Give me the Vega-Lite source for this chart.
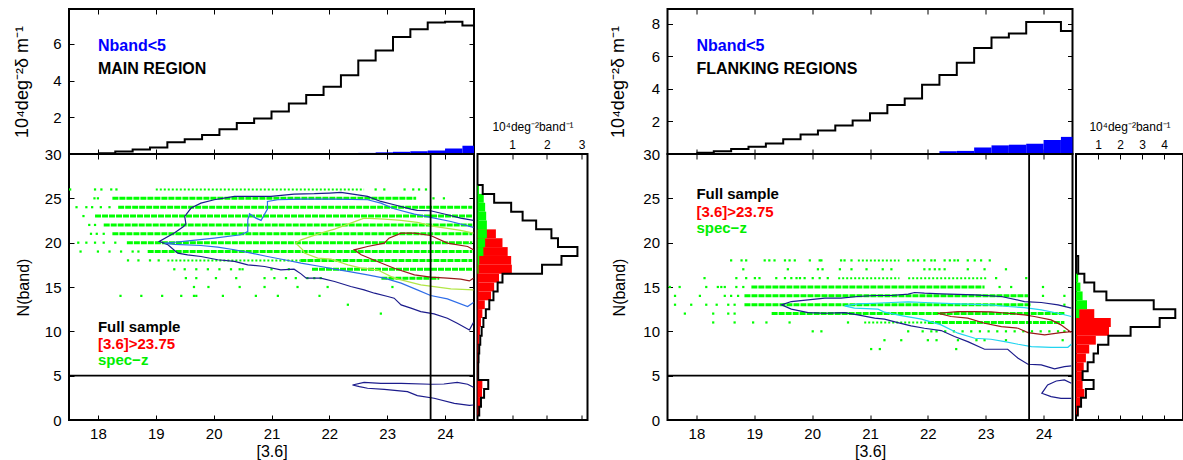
{
"$schema": "https://vega.github.io/schema/vega-lite/v6.json",
"background": "white",
"padding": {"left": 11, "top": 7, "right": 0, "bottom": 0},
"bounds": "flush",
"columns": 5,
"spacing": {"row": 0, "column": 3.5},
"resolve": {"scale": {"color": "independent"}},
"config": {
  "font": "Liberation Sans",
  "view": {"stroke": "#000000", "strokeWidth": 2},
  "axis": {"grid": false, "domain": false, "ticks": true, "tickColor": "#000000", "tickWidth": 1, "tickSize": -5, "labelColor": "#000000", "labelFontSize": 15, "titleColor": "#000000", "titleFontSize": 16, "titleFontWeight": "normal"}
},
"datasets": {
  "topStepL": [{"x":18.0,"v":0.04},{"x":18.3,"v":0.13},{"x":18.6,"v":0.24},{"x":18.9,"v":0.35},{"x":19.2,"v":0.64},{"x":19.5,"v":0.8},{"x":19.8,"v":1.04},{"x":20.1,"v":1.35},{"x":20.4,"v":1.69},{"x":20.7,"v":1.93},{"x":21.0,"v":2.31},{"x":21.3,"v":2.75},{"x":21.6,"v":3.22},{"x":21.9,"v":3.67},{"x":22.2,"v":4.29},{"x":22.5,"v":5.1},{"x":22.8,"v":5.64},{"x":23.1,"v":6.38},{"x":23.4,"v":6.8},{"x":23.7,"v":7.16},{"x":24.0,"v":7.2},{"x":24.3,"v":7.0},{"x":24.5,"v":7.0}],
  "topBlueL": [{"lo":21.9,"hi":22.2,"v":0.02},{"lo":22.2,"hi":22.5,"v":0.03},{"lo":22.5,"hi":22.8,"v":0.06},{"lo":22.8,"hi":23.1,"v":0.09},{"lo":23.1,"hi":23.4,"v":0.12},{"lo":23.4,"hi":23.7,"v":0.15},{"lo":23.7,"hi":24.0,"v":0.19},{"lo":24.0,"hi":24.3,"v":0.3},{"lo":24.3,"hi":24.5,"v":0.45}],
  "topStepR": [{"x":18.0,"v":0.08},{"x":18.3,"v":0.17},{"x":18.6,"v":0.3},{"x":18.9,"v":0.45},{"x":19.2,"v":0.65},{"x":19.5,"v":0.9},{"x":19.8,"v":1.2},{"x":20.1,"v":1.45},{"x":20.4,"v":1.75},{"x":20.7,"v":2.05},{"x":21.0,"v":2.5},{"x":21.3,"v":3.0},{"x":21.6,"v":3.4},{"x":21.9,"v":4.25},{"x":22.2,"v":4.85},{"x":22.5,"v":5.6},{"x":22.8,"v":6.5},{"x":23.1,"v":7.15},{"x":23.4,"v":7.4},{"x":23.7,"v":8.1},{"x":24.0,"v":8.1},{"x":24.3,"v":7.55},{"x":24.5,"v":7.55}],
  "topBlueR": [{"lo":21.6,"hi":21.9,"v":0.04},{"lo":21.9,"hi":22.2,"v":0.06},{"lo":22.2,"hi":22.5,"v":0.17},{"lo":22.5,"hi":22.8,"v":0.19},{"lo":22.8,"hi":23.1,"v":0.4},{"lo":23.1,"hi":23.4,"v":0.53},{"lo":23.4,"hi":23.7,"v":0.57},{"lo":23.7,"hi":24.0,"v":0.63},{"lo":24.0,"hi":24.3,"v":0.86},{"lo":24.3,"hi":24.5,"v":1.05}],
  "sideStepL": [{"n":0.5,"v":0},{"n":0.5,"v":0.05},{"n":1.5,"v":0.1},{"n":2.5,"v":0.19},{"n":3.5,"v":0.31},{"n":4.5,"v":0.02},{"n":5.5,"v":0.02},{"n":6.5,"v":0.03},{"n":7.5,"v":0.05},{"n":8.5,"v":0.08},{"n":9.5,"v":0.12},{"n":10.5,"v":0.17},{"n":11.5,"v":0.24},{"n":12.5,"v":0.34},{"n":13.5,"v":0.46},{"n":14.5,"v":0.58},{"n":15.5,"v":0.72},{"n":16.5,"v":1.86},{"n":17.5,"v":2.42},{"n":18.5,"v":2.88},{"n":19.5,"v":2.32},{"n":20.5,"v":2.13},{"n":21.5,"v":1.69},{"n":22.5,"v":1.3},{"n":23.5,"v":0.97},{"n":24.5,"v":0.48},{"n":25.5,"v":0.15},{"n":26.5,"v":0}],
  "sideBarsL": [{"s":"faint","lo":0.5,"hi":1.5,"v":0.05},{"s":"faint","lo":1.5,"hi":2.5,"v":0.08},{"s":"faint","lo":2.5,"hi":3.5,"v":0.13},{"s":"faint","lo":3.5,"hi":4.5,"v":0.14},{"s":"faint","lo":4.5,"hi":5.5,"v":0.01},{"s":"faint","lo":5.5,"hi":6.5,"v":0.01},{"s":"faint","lo":6.5,"hi":7.5,"v":0.02},{"s":"faint","lo":7.5,"hi":8.5,"v":0.03},{"s":"faint","lo":8.5,"hi":9.5,"v":0.05},{"s":"faint","lo":9.5,"hi":10.5,"v":0.07},{"s":"faint","lo":10.5,"hi":11.5,"v":0.1},{"s":"faint","lo":11.5,"hi":12.5,"v":0.14},{"s":"faint","lo":12.5,"hi":13.5,"v":0.21},{"s":"faint","lo":13.5,"hi":14.5,"v":0.39},{"s":"faint","lo":14.5,"hi":15.5,"v":0.48},{"s":"faint","lo":15.5,"hi":16.5,"v":0.62},{"s":"faint","lo":16.5,"hi":17.5,"v":0.99},{"s":"faint","lo":17.5,"hi":18.5,"v":0.97},{"s":"faint","lo":18.5,"hi":19.5,"v":0.87},{"s":"faint","lo":19.5,"hi":20.5,"v":0.72},{"s":"faint","lo":20.5,"hi":21.5,"v":0.53},
    {"s":"specz","lo":16.5,"hi":17.5,"v":0.03},{"s":"specz","lo":17.5,"hi":18.5,"v":0.05},{"s":"specz","lo":18.5,"hi":19.5,"v":0.17},{"s":"specz","lo":19.5,"hi":20.5,"v":0.22},{"s":"specz","lo":20.5,"hi":21.5,"v":0.27},{"s":"specz","lo":21.5,"hi":22.5,"v":0.27},{"s":"specz","lo":22.5,"hi":23.5,"v":0.25},{"s":"specz","lo":23.5,"hi":24.5,"v":0.22},{"s":"specz","lo":24.5,"hi":25.5,"v":0.18},{"s":"specz","lo":25.5,"hi":26.5,"v":0.04}],
  "sideStepR": [{"n":0.5,"v":0},{"n":0.5,"v":0.08},{"n":1.5,"v":0.23},{"n":2.5,"v":0.45},{"n":3.5,"v":0.8},{"n":4.5,"v":0.3},{"n":5.5,"v":0.53},{"n":6.5,"v":0.8},{"n":7.5,"v":1.0},{"n":8.5,"v":1.47},{"n":9.5,"v":2.48},{"n":10.5,"v":3.8},{"n":11.5,"v":4.51},{"n":12.5,"v":3.53},{"n":13.5,"v":1.38},{"n":14.5,"v":0.83},{"n":15.5,"v":0.38},{"n":16.5,"v":0.1},{"n":17.5,"v":0.1},{"n":18.5,"v":0}],
  "sideBarsR": [{"s":"faint","lo":0.5,"hi":1.5,"v":0.12},{"s":"faint","lo":1.5,"hi":2.5,"v":0.2},{"s":"faint","lo":2.5,"hi":3.5,"v":0.38},{"s":"faint","lo":3.5,"hi":4.5,"v":0.3},{"s":"faint","lo":4.5,"hi":5.5,"v":0.3},{"s":"faint","lo":5.5,"hi":6.5,"v":0.35},{"s":"faint","lo":6.5,"hi":7.5,"v":0.45},{"s":"faint","lo":7.5,"hi":8.5,"v":0.6},{"s":"faint","lo":8.5,"hi":9.5,"v":0.9},{"s":"faint","lo":9.5,"hi":10.5,"v":1.5},{"s":"faint","lo":10.5,"hi":11.5,"v":1.58},{"s":"faint","lo":11.5,"hi":12.5,"v":0.83},
    {"s":"specz","lo":11.5,"hi":12.5,"v":0.15},{"s":"specz","lo":12.5,"hi":13.5,"v":0.5},{"s":"specz","lo":13.5,"hi":14.5,"v":0.3},{"s":"specz","lo":14.5,"hi":15.5,"v":0.2},{"s":"specz","lo":15.5,"hi":16.5,"v":0.1}],
  "runsL": [{"x1":18.25,"x2":23.5,"n":25},{"x1":18.35,"x2":24.47,"n":24},{"x1":17.95,"x2":24.47,"n":23},{"x1":18.1,"x2":24.47,"n":22},{"x1":18.25,"x2":24.47,"n":21},{"x1":18.5,"x2":24.47,"n":20},{"x1":18.86,"x2":24.47,"n":19},{"x1":21.5,"x2":24.47,"n":18},{"x1":21.7,"x2":24.47,"n":17},{"x1":22.9,"x2":23.9,"n":16}],
  "medL": [{"x1":19.0,"x2":22.6,"n":26},{"x1":19.2,"x2":21.5,"n":18}],
  "dotsL": [{"n":26,"x":17.52},{"n":26,"x":17.95},{"n":26,"x":18.06},{"n":26,"x":18.23},{"n":26,"x":18.32},{"n":26,"x":22.8},{"n":26,"x":22.95},{"n":26,"x":23.3},{"n":26,"x":23.45},{"n":26,"x":23.55},{"n":26,"x":23.67},
    {"n":25,"x":17.94},{"n":25,"x":18.0},{"n":25,"x":23.8},{"n":25,"x":23.98},
    {"n":24,"x":17.63},{"n":24,"x":17.8},{"n":24,"x":17.9},{"n":24,"x":18.05},{"n":24,"x":18.2},
    {"n":23,"x":17.75},{"n":22,"x":17.85},{"n":22,"x":17.95},{"n":21,"x":17.88},{"n":21,"x":17.98},{"n":21,"x":18.1},
    {"n":20,"x":17.66},{"n":20,"x":17.8},{"n":20,"x":17.95},{"n":20,"x":18.1},{"n":20,"x":18.3},
    {"n":19,"x":17.7},{"n":19,"x":18.0},{"n":19,"x":18.2},{"n":19,"x":18.4},{"n":19,"x":18.6},{"n":19,"x":18.7},
    {"n":18,"x":18.52},{"n":18,"x":18.7},{"n":18,"x":18.9},{"n":18,"x":19.05},
    {"n":17,"x":19.32},{"n":17,"x":19.5},{"n":17,"x":19.7},{"n":17,"x":19.9},{"n":17,"x":20.1},{"n":17,"x":20.3},{"n":17,"x":20.45},{"n":17,"x":20.5},{"n":17,"x":21.0},{"n":17,"x":21.3},
    {"n":16,"x":19.52},{"n":16,"x":19.7},{"n":16,"x":20.04},{"n":16,"x":20.39},{"n":16,"x":20.88},{"n":16,"x":21.05},{"n":16,"x":21.25},{"n":16,"x":21.42},{"n":16,"x":21.62},{"n":16,"x":21.74},{"n":16,"x":21.85},
    {"n":15,"x":19.66},{"n":15,"x":19.91},{"n":15,"x":20.45},{"n":15,"x":20.88},{"n":15,"x":21.45},{"n":15,"x":21.97},{"n":15,"x":23.09},
    {"n":14,"x":18.39},{"n":14,"x":18.75},{"n":14,"x":19.11},{"n":14,"x":19.44},{"n":14,"x":19.66},{"n":14,"x":19.7},{"n":14,"x":20.16},{"n":14,"x":20.73},{"n":14,"x":21.11},{"n":14,"x":21.83},
    {"n":13,"x":22.32},{"n":12,"x":22.89}],
  "runsR": [{"x1":18.95,"x2":22.98,"n":15},{"x1":18.83,"x2":23.73,"n":14},{"x1":18.83,"x2":23.79,"n":13},{"x1":19.3,"x2":24.36,"n":12},{"x1":22.0,"x2":24.36,"n":11}],
  "medR": [{"x1":20.79,"x2":21.51,"n":18},{"x1":20.45,"x2":21.51,"n":16},{"x1":21.66,"x2":23.04,"n":16},{"x1":20.9,"x2":22.0,"n":11}],
  "dotsR": [{"n":18,"x":18.6},{"n":18,"x":18.78},{"n":18,"x":18.86},{"n":18,"x":19.18},{"n":18,"x":19.26},{"n":18,"x":19.35},{"n":18,"x":19.53},{"n":18,"x":19.61},{"n":18,"x":19.7},{"n":18,"x":19.96},{"n":18,"x":20.13},{"n":18,"x":20.16},{"n":18,"x":20.5},{"n":18,"x":20.56},{"n":18,"x":20.68},{"n":18,"x":21.66},{"n":18,"x":21.75},{"n":18,"x":21.83},{"n":18,"x":21.94},{"n":18,"x":22.06},{"n":18,"x":22.12},{"n":18,"x":22.29},{"n":18,"x":22.38},{"n":18,"x":22.46},{"n":18,"x":22.52},{"n":18,"x":22.69},{"n":18,"x":22.81},{"n":18,"x":22.92},{"n":18,"x":23.07},
    {"n":17,"x":18.81},{"n":17,"x":19.58},{"n":17,"x":20.1},{"n":17,"x":20.18},{"n":17,"x":20.48},{"n":17,"x":20.68},{"n":17,"x":20.94},{"n":17,"x":21.22},{"n":17,"x":21.37},{"n":17,"x":21.94},{"n":17,"x":22.03},{"n":17,"x":22.12},{"n":17,"x":22.2},{"n":17,"x":22.29},{"n":17,"x":22.69},{"n":17,"x":22.98},{"n":17,"x":23.35},
    {"n":16,"x":18.14},{"n":16,"x":18.69},{"n":16,"x":18.86},{"n":16,"x":19.01},{"n":16,"x":19.09},{"n":16,"x":19.38},{"n":16,"x":19.53},{"n":16,"x":19.64},{"n":16,"x":19.73},{"n":16,"x":19.79},{"n":16,"x":19.87},{"n":16,"x":20.01},{"n":16,"x":20.13},{"n":16,"x":20.27},{"n":16,"x":23.18},{"n":16,"x":23.7},
    {"n":15,"x":17.54},{"n":15,"x":17.71},{"n":15,"x":18.17},{"n":15,"x":18.37},{"n":15,"x":18.43},{"n":15,"x":18.49},{"n":15,"x":18.69},{"n":15,"x":18.81},{"n":15,"x":23.24},{"n":15,"x":23.44},{"n":15,"x":23.99},
    {"n":14,"x":17.63},{"n":14,"x":18.06},{"n":14,"x":18.49},{"n":14,"x":18.6},{"n":14,"x":18.72},{"n":14,"x":23.99},{"n":14,"x":24.36},
    {"n":13,"x":17.63},{"n":13,"x":17.91},{"n":13,"x":18.17},{"n":13,"x":18.35},{"n":13,"x":18.55},{"n":13,"x":18.66},{"n":13,"x":24.36},
    {"n":12,"x":17.8},{"n":12,"x":18.29},{"n":12,"x":18.55},{"n":12,"x":18.66},
    {"n":11,"x":18.29},{"n":11,"x":18.66},{"n":11,"x":18.98},{"n":11,"x":19.21},{"n":11,"x":19.61},{"n":11,"x":20.62},
    {"n":10,"x":20.01},{"n":10,"x":20.16},{"n":10,"x":21.66},{"n":10,"x":21.91},{"n":10,"x":22.06},{"n":10,"x":22.15},{"n":10,"x":22.3},{"n":10,"x":22.45},{"n":10,"x":22.6},{"n":10,"x":22.75},{"n":10,"x":22.9},{"n":10,"x":23.05},{"n":10,"x":23.2},{"n":10,"x":23.35},{"n":10,"x":23.5},{"n":10,"x":23.65},{"n":10,"x":23.8},{"n":10,"x":23.95},{"n":10,"x":24.1},{"n":10,"x":24.25},{"n":10,"x":24.36},
    {"n":9,"x":21.25},{"n":9,"x":21.54},{"n":9,"x":22.0},{"n":9,"x":22.15},{"n":9,"x":22.52},{"n":9,"x":22.84},{"n":9,"x":22.98},{"n":9,"x":23.35},{"n":9,"x":24.33},
    {"n":8,"x":21.02},{"n":8,"x":21.17},{"n":8,"x":22.49}],
  "contL": [
    {"id":"a","c":"L1","x":24.49,"y":22.51},{"id":"a","c":"L1","x":24.27,"y":22.77},{"id":"a","c":"L1","x":24.04,"y":23.15},{"id":"a","c":"L1","x":23.75,"y":23.6},{"id":"a","c":"L1","x":23.52,"y":23.64},{"id":"a","c":"L1","x":23.41,"y":23.79},{"id":"a","c":"L1","x":23.12,"y":24.28},{"id":"a","c":"L1","x":22.89,"y":24.65},{"id":"a","c":"L1","x":22.66,"y":25.22},{"id":"a","c":"L1","x":22.49,"y":25.4},{"id":"a","c":"L1","x":22.2,"y":25.67},{"id":"a","c":"L1","x":22.0,"y":25.59},{"id":"a","c":"L1","x":21.74,"y":25.52},{"id":"a","c":"L1","x":21.39,"y":25.48},{"id":"a","c":"L1","x":20.99,"y":25.22},{"id":"a","c":"L1","x":20.7,"y":25.22},{"id":"a","c":"L1","x":20.36,"y":25.22},{"id":"a","c":"L1","x":20.01,"y":24.84},{"id":"a","c":"L1","x":19.78,"y":24.46},{"id":"a","c":"L1","x":19.61,"y":23.9},{"id":"a","c":"L1","x":19.5,"y":22.96},{"id":"a","c":"L1","x":19.52,"y":22.13},{"id":"a","c":"L1","x":19.48,"y":21.83},{"id":"a","c":"L1","x":19.32,"y":21.08},{"id":"a","c":"L1","x":19.06,"y":20.14},{"id":"a","c":"L1","x":19.21,"y":19.76},{"id":"a","c":"L1","x":19.38,"y":18.82},{"id":"a","c":"L1","x":19.55,"y":18.63},{"id":"a","c":"L1","x":19.78,"y":18.44},{"id":"a","c":"L1","x":20.07,"y":18.07},{"id":"a","c":"L1","x":20.36,"y":17.88},{"id":"a","c":"L1","x":20.59,"y":17.5},{"id":"a","c":"L1","x":20.88,"y":17.31},{"id":"a","c":"L1","x":21.16,"y":16.94},{"id":"a","c":"L1","x":21.39,"y":17.01},{"id":"a","c":"L1","x":21.51,"y":16.48},{"id":"a","c":"L1","x":21.6,"y":16.0},{"id":"a","c":"L1","x":21.85,"y":16.0},{"id":"a","c":"L1","x":22.09,"y":15.62},{"id":"a","c":"L1","x":22.37,"y":15.06},{"id":"a","c":"L1","x":22.6,"y":14.68},{"id":"a","c":"L1","x":22.78,"y":14.3},{"id":"a","c":"L1","x":23.01,"y":13.93},{"id":"a","c":"L1","x":23.12,"y":13.74},{"id":"a","c":"L1","x":23.24,"y":12.98},{"id":"a","c":"L1","x":23.41,"y":12.61},{"id":"a","c":"L1","x":23.58,"y":12.23},{"id":"a","c":"L1","x":23.81,"y":11.97},{"id":"a","c":"L1","x":24.04,"y":11.48},{"id":"a","c":"L1","x":24.21,"y":10.91},{"id":"a","c":"L1","x":24.42,"y":10.16},{"id":"a","c":"L1","x":24.49,"y":10.99},
    {"id":"b","c":"L2","x":24.49,"y":21.72},{"id":"b","c":"L2","x":24.1,"y":22.39},{"id":"b","c":"L2","x":23.75,"y":22.85},{"id":"b","c":"L2","x":23.47,"y":23.22},{"id":"b","c":"L2","x":23.12,"y":23.82},{"id":"b","c":"L2","x":22.89,"y":24.46},{"id":"b","c":"L2","x":22.66,"y":24.84},{"id":"b","c":"L2","x":22.09,"y":24.92},{"id":"b","c":"L2","x":21.51,"y":24.92},{"id":"b","c":"L2","x":21.11,"y":24.84},{"id":"b","c":"L2","x":20.93,"y":24.65},{"id":"b","c":"L2","x":20.93,"y":23.79},{"id":"b","c":"L2","x":20.82,"y":22.51},{"id":"b","c":"L2","x":20.73,"y":22.77},{"id":"b","c":"L2","x":20.62,"y":23.26},{"id":"b","c":"L2","x":20.59,"y":22.58},{"id":"b","c":"L2","x":20.59,"y":21.26},{"id":"b","c":"L2","x":20.47,"y":20.89},{"id":"b","c":"L2","x":20.01,"y":20.51},{"id":"b","c":"L2","x":19.64,"y":20.25},{"id":"b","c":"L2","x":19.29,"y":20.02},{"id":"b","c":"L2","x":19.15,"y":19.95},{"id":"b","c":"L2","x":19.32,"y":19.8},{"id":"b","c":"L2","x":19.78,"y":19.68},{"id":"b","c":"L2","x":20.07,"y":19.5},{"id":"b","c":"L2","x":20.36,"y":19.2},{"id":"b","c":"L2","x":20.65,"y":18.82},{"id":"b","c":"L2","x":20.93,"y":18.44},{"id":"b","c":"L2","x":21.22,"y":18.07},{"id":"b","c":"L2","x":21.51,"y":17.69},{"id":"b","c":"L2","x":21.85,"y":17.31},{"id":"b","c":"L2","x":22.09,"y":17.01},{"id":"b","c":"L2","x":22.37,"y":16.71},{"id":"b","c":"L2","x":22.66,"y":16.37},{"id":"b","c":"L2","x":22.95,"y":16.0},{"id":"b","c":"L2","x":23.24,"y":15.43},{"id":"b","c":"L2","x":23.52,"y":14.68},{"id":"b","c":"L2","x":23.75,"y":14.04},{"id":"b","c":"L2","x":24.04,"y":13.66},{"id":"b","c":"L2","x":24.39,"y":12.8},{"id":"b","c":"L2","x":24.49,"y":13.25},
    {"id":"c","c":"L3","x":24.49,"y":21.08},{"id":"c","c":"L3","x":24.27,"y":21.38},{"id":"c","c":"L3","x":23.81,"y":21.83},{"id":"c","c":"L3","x":23.52,"y":22.28},{"id":"c","c":"L3","x":23.24,"y":22.51},{"id":"c","c":"L3","x":22.95,"y":22.66},{"id":"c","c":"L3","x":22.6,"y":22.77},{"id":"c","c":"L3","x":22.37,"y":22.21},{"id":"c","c":"L3","x":22.09,"y":21.53},{"id":"c","c":"L3","x":21.85,"y":21.08},{"id":"c","c":"L3","x":21.51,"y":20.32},{"id":"c","c":"L3","x":21.42,"y":19.95},{"id":"c","c":"L3","x":21.54,"y":19.19},{"id":"c","c":"L3","x":21.57,"y":18.82},{"id":"c","c":"L3","x":21.8,"y":18.25},{"id":"c","c":"L3","x":22.03,"y":18.14},{"id":"c","c":"L3","x":22.32,"y":17.5},{"id":"c","c":"L3","x":22.55,"y":17.12},{"id":"c","c":"L3","x":22.83,"y":16.94},{"id":"c","c":"L3","x":23.12,"y":16.0},{"id":"c","c":"L3","x":23.58,"y":15.24},{"id":"c","c":"L3","x":23.81,"y":15.05},{"id":"c","c":"L3","x":24.1,"y":14.79},{"id":"c","c":"L3","x":24.49,"y":14.68},
    {"id":"d","c":"L4","x":24.49,"y":19.19},{"id":"d","c":"L4","x":24.39,"y":19.57},{"id":"d","c":"L4","x":24.04,"y":19.95},{"id":"d","c":"L4","x":23.75,"y":20.81},{"id":"d","c":"L4","x":23.47,"y":21.08},{"id":"d","c":"L4","x":23.24,"y":21.08},{"id":"d","c":"L4","x":23.03,"y":20.51},{"id":"d","c":"L4","x":22.95,"y":19.95},{"id":"d","c":"L4","x":22.66,"y":19.57},{"id":"d","c":"L4","x":22.43,"y":19.19},{"id":"d","c":"L4","x":22.55,"y":18.63},{"id":"d","c":"L4","x":22.83,"y":17.88},{"id":"d","c":"L4","x":23.12,"y":17.12},{"id":"d","c":"L4","x":23.47,"y":16.37},{"id":"d","c":"L4","x":23.75,"y":16.11},{"id":"d","c":"L4","x":24.04,"y":16.0},{"id":"d","c":"L4","x":24.27,"y":15.88},{"id":"d","c":"L4","x":24.42,"y":15.69},{"id":"d","c":"L4","x":24.49,"y":16.0},
    {"id":"e","c":"L1","x":24.49,"y":3.69},{"id":"e","c":"L1","x":24.39,"y":4.03},{"id":"e","c":"L1","x":24.21,"y":4.25},{"id":"e","c":"L1","x":23.98,"y":4.06},{"id":"e","c":"L1","x":23.75,"y":4.03},{"id":"e","c":"L1","x":23.24,"y":4.14},{"id":"e","c":"L1","x":22.89,"y":4.14},{"id":"e","c":"L1","x":22.6,"y":4.25},{"id":"e","c":"L1","x":22.4,"y":3.95},{"id":"e","c":"L1","x":22.52,"y":3.76},{"id":"e","c":"L1","x":22.66,"y":3.58},{"id":"e","c":"L1","x":22.95,"y":3.46},{"id":"e","c":"L1","x":23.35,"y":3.2},{"id":"e","c":"L1","x":23.52,"y":2.75},{"id":"e","c":"L1","x":23.81,"y":2.45},{"id":"e","c":"L1","x":24.16,"y":1.88},{"id":"e","c":"L1","x":24.42,"y":1.66},{"id":"e","c":"L1","x":24.49,"y":1.69}],
  "contR": [
    {"id":"a","c":"L1","x":24.48,"y":12.61},{"id":"a","c":"L1","x":24.25,"y":12.98},{"id":"a","c":"L1","x":23.96,"y":13.25},{"id":"a","c":"L1","x":23.67,"y":13.36},{"id":"a","c":"L1","x":23.27,"y":13.93},{"id":"a","c":"L1","x":22.81,"y":14.11},{"id":"a","c":"L1","x":22.23,"y":14.23},{"id":"a","c":"L1","x":21.94,"y":14.3},{"id":"a","c":"L1","x":21.77,"y":14.38},{"id":"a","c":"L1","x":21.66,"y":14.19},{"id":"a","c":"L1","x":21.37,"y":14.04},{"id":"a","c":"L1","x":21.08,"y":14.04},{"id":"a","c":"L1","x":20.79,"y":13.93},{"id":"a","c":"L1","x":20.5,"y":13.74},{"id":"a","c":"L1","x":20.22,"y":13.74},{"id":"a","c":"L1","x":19.93,"y":13.55},{"id":"a","c":"L1","x":19.64,"y":13.36},{"id":"a","c":"L1","x":19.47,"y":12.98},{"id":"a","c":"L1","x":19.64,"y":12.5},{"id":"a","c":"L1","x":19.93,"y":12.12},{"id":"a","c":"L1","x":20.22,"y":12.04},{"id":"a","c":"L1","x":20.56,"y":12.12},{"id":"a","c":"L1","x":20.79,"y":11.86},{"id":"a","c":"L1","x":21.08,"y":11.48},{"id":"a","c":"L1","x":21.25,"y":11.37},{"id":"a","c":"L1","x":21.48,"y":10.99},{"id":"a","c":"L1","x":21.71,"y":10.61},{"id":"a","c":"L1","x":21.94,"y":10.35},{"id":"a","c":"L1","x":22.23,"y":10.09},{"id":"a","c":"L1","x":22.46,"y":9.41},{"id":"a","c":"L1","x":22.69,"y":8.84},{"id":"a","c":"L1","x":22.98,"y":7.98},{"id":"a","c":"L1","x":23.38,"y":7.98},{"id":"a","c":"L1","x":23.56,"y":6.96},{"id":"a","c":"L1","x":23.73,"y":6.29},{"id":"a","c":"L1","x":23.96,"y":6.21},{"id":"a","c":"L1","x":24.19,"y":5.76},{"id":"a","c":"L1","x":24.36,"y":6.02},{"id":"a","c":"L1","x":24.48,"y":6.1},
    {"id":"b","c":"L2","x":24.48,"y":11.67},{"id":"b","c":"L2","x":24.25,"y":12.04},{"id":"b","c":"L2","x":23.96,"y":12.42},{"id":"b","c":"L2","x":23.67,"y":12.68},{"id":"b","c":"L2","x":23.38,"y":12.8},{"id":"b","c":"L2","x":23.09,"y":12.98},{"id":"b","c":"L2","x":22.52,"y":13.1},{"id":"b","c":"L2","x":21.94,"y":13.25},{"id":"b","c":"L2","x":21.66,"y":13.32},{"id":"b","c":"L2","x":21.37,"y":13.25},{"id":"b","c":"L2","x":21.08,"y":13.17},{"id":"b","c":"L2","x":20.79,"y":13.1},{"id":"b","c":"L2","x":20.56,"y":12.87},{"id":"b","c":"L2","x":20.73,"y":12.61},{"id":"b","c":"L2","x":21.14,"y":12.5},{"id":"b","c":"L2","x":21.25,"y":12.16},{"id":"b","c":"L2","x":21.54,"y":11.78},{"id":"b","c":"L2","x":21.89,"y":11.37},{"id":"b","c":"L2","x":22.23,"y":10.73},{"id":"b","c":"L2","x":22.52,"y":9.79},{"id":"b","c":"L2","x":22.81,"y":9.22},{"id":"b","c":"L2","x":23.09,"y":9.11},{"id":"b","c":"L2","x":23.33,"y":8.84},{"id":"b","c":"L2","x":23.56,"y":8.54},{"id":"b","c":"L2","x":23.79,"y":8.28},{"id":"b","c":"L2","x":24.13,"y":8.2},{"id":"b","c":"L2","x":24.42,"y":8.2},{"id":"b","c":"L2","x":24.48,"y":8.54},
    {"id":"c","c":"L3","x":24.48,"y":9.86},{"id":"c","c":"L3","x":24.3,"y":10.73},{"id":"c","c":"L3","x":24.13,"y":11.29},{"id":"c","c":"L3","x":23.84,"y":11.67},{"id":"c","c":"L3","x":23.67,"y":11.86},{"id":"c","c":"L3","x":23.38,"y":12.04},{"id":"c","c":"L3","x":23.09,"y":12.19},{"id":"c","c":"L3","x":22.81,"y":12.23},{"id":"c","c":"L3","x":22.52,"y":12.23},{"id":"c","c":"L3","x":22.17,"y":12.04},{"id":"c","c":"L3","x":22.4,"y":11.67},{"id":"c","c":"L3","x":22.69,"y":11.48},{"id":"c","c":"L3","x":22.98,"y":10.91},{"id":"c","c":"L3","x":23.27,"y":10.54},{"id":"c","c":"L3","x":23.56,"y":10.35},{"id":"c","c":"L3","x":23.73,"y":9.86},{"id":"c","c":"L3","x":24.02,"y":9.6},{"id":"c","c":"L3","x":24.3,"y":9.86},{"id":"c","c":"L3","x":24.48,"y":9.97},
    {"id":"e","c":"L1","x":24.48,"y":4.14},{"id":"e","c":"L1","x":24.36,"y":4.52},{"id":"e","c":"L1","x":24.22,"y":4.4},{"id":"e","c":"L1","x":24.07,"y":3.95},{"id":"e","c":"L1","x":23.97,"y":3.01},{"id":"e","c":"L1","x":24.13,"y":2.63},{"id":"e","c":"L1","x":24.3,"y":2.45},{"id":"e","c":"L1","x":24.48,"y":2.45}]
},
"concat": [
  {"width": 405, "height": 145,
   "layer": [
    {"data": {"name": "topBlueL"}, "mark": {"type": "rect", "color": "#0000ff"},
     "encoding": {
      "x": {"field": "lo", "type": "quantitative", "scale": {"domain": [17.5, 24.5], "nice": false, "zero": false}, "axis": {"orient": "bottom", "values": [18,19,20,21,22,23,24], "labels": false, "title": null}},
      "x2": {"field": "hi"},
      "y": {"field": "v", "type": "quantitative", "scale": {"domain": [0, 7.9], "nice": false}, "axis": {"orient": "left", "values": [2,4,6], "labelPadding": 13, "title": "10⁴deg⁻²δ m⁻¹", "titleX": -38, "titleFontSize": 18}},
      "y2": {"datum": 0}}},
    {"data": {"name": "topStepL"}, "mark": {"type": "line", "interpolate": "step-after", "color": "#000000", "strokeWidth": 2, "clip": true},
     "encoding": {
      "x": {"field": "x", "type": "quantitative", "axis": {"orient": "top", "values": [18,19,20,21,22,23,24], "labels": false, "title": null}},
      "y": {"field": "v", "type": "quantitative", "axis": {"orient": "right", "values": [2,4,6], "labels": false, "title": null}},
      "order": {"value": null}}},
    {"data": {"values": [{}]}, "mark": {"type": "text", "align": "left", "baseline": "middle", "fontSize": 16, "fontWeight": "bold", "color": "#0000ff"},
     "encoding": {"x": {"datum": 18.0, "type": "quantitative", "axis": null}, "y": {"datum": 5.88, "type": "quantitative", "axis": null}, "text": {"value": "Nband<5"}}},
    {"data": {"values": [{}]}, "mark": {"type": "text", "align": "left", "baseline": "middle", "fontSize": 16, "fontWeight": "bold", "color": "#000000"},
     "encoding": {"x": {"datum": 18.0, "type": "quantitative", "axis": null}, "y": {"datum": 4.63, "type": "quantitative", "axis": null}, "text": {"value": "MAIN REGION"}}}
   ],
   "resolve": {"axis": {"x": "independent", "y": "independent"}}},
  {"width": 110, "height": 145, "view": {"stroke": null}, "data": {"values": [{}]}, "mark": {"type": "text", "text": ""}},
  {"width": 72.5, "height": 145, "view": {"stroke": null}, "data": {"values": [{}]}, "mark": {"type": "text", "text": ""}},
  {"width": 405, "height": 145,
   "layer": [
    {"data": {"name": "topBlueR"}, "mark": {"type": "rect", "color": "#0000ff"},
     "encoding": {
      "x": {"field": "lo", "type": "quantitative", "scale": {"domain": [17.5, 24.5], "nice": false, "zero": false}, "axis": {"orient": "bottom", "values": [18,19,20,21,22,23,24], "labels": false, "title": null}},
      "x2": {"field": "hi"},
      "y": {"field": "v", "type": "quantitative", "scale": {"domain": [0, 8.9], "nice": false}, "axis": {"orient": "left", "values": [2,4,6,8], "labelPadding": 13, "title": "10⁴deg⁻²δ m⁻¹", "titleX": -40, "titleFontSize": 18}},
      "y2": {"datum": 0}}},
    {"data": {"name": "topStepR"}, "mark": {"type": "line", "interpolate": "step-after", "color": "#000000", "strokeWidth": 2, "clip": true},
     "encoding": {
      "x": {"field": "x", "type": "quantitative", "axis": {"orient": "top", "values": [18,19,20,21,22,23,24], "labels": false, "title": null}},
      "y": {"field": "v", "type": "quantitative", "axis": {"orient": "right", "values": [2,4,6,8], "labels": false, "title": null}},
      "order": {"value": null}}},
    {"data": {"values": [{}]}, "mark": {"type": "text", "align": "left", "baseline": "middle", "fontSize": 16, "fontWeight": "bold", "color": "#0000ff"},
     "encoding": {"x": {"datum": 18.0, "type": "quantitative", "axis": null}, "y": {"datum": 6.63, "type": "quantitative", "axis": null}, "text": {"value": "Nband<5"}}},
    {"data": {"values": [{}]}, "mark": {"type": "text", "align": "left", "baseline": "middle", "fontSize": 16, "fontWeight": "bold", "color": "#000000"},
     "encoding": {"x": {"datum": 18.0, "type": "quantitative", "axis": null}, "y": {"datum": 5.22, "type": "quantitative", "axis": null}, "text": {"value": "FLANKING REGIONS"}}}
   ],
   "resolve": {"axis": {"x": "independent", "y": "independent"}}},
  {"width": 107, "height": 145, "view": {"stroke": null}, "data": {"values": [{}]}, "mark": {"type": "text", "text": ""}},
  {"width": 405, "height": 266,
   "layer": [
    {"data": {"name": "runsL"}, "mark": {"type": "rule", "color": "#00ff00", "strokeWidth": 3, "strokeDash": [6, 1]},
     "encoding": {
      "x": {"field": "x1", "type": "quantitative", "scale": {"domain": [17.5, 24.5], "nice": false, "zero": false}, "axis": {"orient": "bottom", "values": [18,19,20,21,22,23,24], "labelPadding": 11, "title": "[3.6]", "titlePadding": 2}},
      "x2": {"field": "x2"},
      "y": {"field": "n", "type": "quantitative", "scale": {"domain": [0, 30], "nice": false}, "axis": {"orient": "left", "values": [0,5,10,15,20,25,30], "labelPadding": 13, "title": "N(band)", "titleX": -38}}}},
    {"data": {"name": "medL"}, "mark": {"type": "rule", "color": "#00ff00", "strokeWidth": 2, "strokeDash": [2, 2]},
     "encoding": {"x": {"field": "x1", "type": "quantitative", "axis": null}, "x2": {"field": "x2"}, "y": {"field": "n", "type": "quantitative", "axis": null}}},
    {"data": {"name": "dotsL"}, "mark": {"type": "square", "size": 5, "color": "#00ff00", "opacity": 1},
     "encoding": {
      "x": {"field": "x", "type": "quantitative", "axis": {"orient": "top", "values": [18,19,20,21,22,23,24], "labels": false, "title": null}},
      "y": {"field": "n", "type": "quantitative", "axis": {"orient": "right", "values": [0,5,10,15,20,25,30], "labels": false, "title": null}}}},
    {"data": {"name": "contL"}, "mark": {"type": "line", "strokeWidth": 1.2, "clip": true},
     "encoding": {
      "x": {"field": "x", "type": "quantitative", "axis": null},
      "y": {"field": "y", "type": "quantitative", "axis": null},
      "color": {"field": "c", "type": "nominal", "scale": {"domain": ["L1","L2","L3","L4"], "range": ["#1c1c8c","#2f6de8","#b2e645","#9a1a1a"]}, "legend": null},
      "detail": {"field": "id"},
      "order": {"value": null}}},
    {"data": {"values": [{}]}, "mark": {"type": "rule", "color": "#000000", "strokeWidth": 1.8},
     "encoding": {"x": {"datum": 23.75, "type": "quantitative", "axis": null}}},
    {"data": {"values": [{}]}, "mark": {"type": "rule", "color": "#000000", "strokeWidth": 1.8},
     "encoding": {"y": {"datum": 5, "type": "quantitative", "axis": null}}},
    {"data": {"values": [{}]}, "mark": {"type": "text", "align": "left", "baseline": "middle", "fontSize": 15, "fontWeight": "bold", "color": "#000000"},
     "encoding": {"x": {"datum": 18.0, "type": "quantitative", "axis": null}, "y": {"datum": 10.5, "type": "quantitative", "axis": null}, "text": {"value": "Full sample"}}},
    {"data": {"values": [{}]}, "mark": {"type": "text", "align": "left", "baseline": "middle", "fontSize": 15, "fontWeight": "bold", "color": "#ff0000"},
     "encoding": {"x": {"datum": 18.0, "type": "quantitative", "axis": null}, "y": {"datum": 8.6, "type": "quantitative", "axis": null}, "text": {"value": "[3.6]>23.75"}}},
    {"data": {"values": [{}]}, "mark": {"type": "text", "align": "left", "baseline": "middle", "fontSize": 15, "fontWeight": "bold", "color": "#00ee00"},
     "encoding": {"x": {"datum": 18.0, "type": "quantitative", "axis": null}, "y": {"datum": 6.8, "type": "quantitative", "axis": null}, "text": {"value": "spec−z"}}}
   ],
   "resolve": {"axis": {"x": "independent", "y": "independent"}}},
  {"width": 110, "height": 266,
   "layer": [
    {"data": {"name": "sideBarsL"}, "mark": {"type": "rect"},
     "encoding": {
      "x": {"field": "v", "type": "quantitative", "scale": {"domain": [0, 3.17], "nice": false}, "axis": {"orient": "top", "values": [1,2,3], "labelFontSize": 12, "labelPadding": 8, "title": "10⁴deg⁻²band⁻¹", "titleFontSize": 12, "titlePadding": 5}},
      "x2": {"datum": 0},
      "y": {"field": "lo", "type": "quantitative", "scale": {"domain": [0, 30], "nice": false}, "axis": null},
      "y2": {"field": "hi"},
      "color": {"field": "s", "type": "nominal", "scale": {"domain": ["faint","specz"], "range": ["#ff0000","#00ff00"]}, "legend": null}}},
    {"data": {"name": "sideStepL"}, "mark": {"type": "line", "interpolate": "step-before", "color": "#000000", "strokeWidth": 2, "clip": true},
     "encoding": {
      "x": {"field": "v", "type": "quantitative", "axis": {"orient": "bottom", "values": [1,2,3], "labels": false, "title": null}},
      "y": {"field": "n", "type": "quantitative", "axis": null},
      "order": {"value": null}}}
   ],
   "resolve": {"axis": {"x": "independent", "y": "independent"}}},
  {"width": 72.5, "height": 266, "view": {"stroke": null}, "data": {"values": [{}]}, "mark": {"type": "text", "text": ""}},
  {"width": 405, "height": 266,
   "layer": [
    {"data": {"name": "runsR"}, "mark": {"type": "rule", "color": "#00ff00", "strokeWidth": 3, "strokeDash": [6, 1]},
     "encoding": {
      "x": {"field": "x1", "type": "quantitative", "scale": {"domain": [17.5, 24.5], "nice": false, "zero": false}, "axis": {"orient": "bottom", "values": [18,19,20,21,22,23,24], "labelPadding": 11, "title": "[3.6]", "titlePadding": 2}},
      "x2": {"field": "x2"},
      "y": {"field": "n", "type": "quantitative", "scale": {"domain": [0, 30], "nice": false}, "axis": {"orient": "left", "values": [0,5,10,15,20,25,30], "labelPadding": 13, "title": "N(band)", "titleX": -40}}}},
    {"data": {"name": "medR"}, "mark": {"type": "rule", "color": "#00ff00", "strokeWidth": 2, "strokeDash": [2, 2]},
     "encoding": {"x": {"field": "x1", "type": "quantitative", "axis": null}, "x2": {"field": "x2"}, "y": {"field": "n", "type": "quantitative", "axis": null}}},
    {"data": {"name": "dotsR"}, "mark": {"type": "square", "size": 5, "color": "#00ff00", "opacity": 1},
     "encoding": {
      "x": {"field": "x", "type": "quantitative", "axis": {"orient": "top", "values": [18,19,20,21,22,23,24], "labels": false, "title": null}},
      "y": {"field": "n", "type": "quantitative", "axis": {"orient": "right", "values": [0,5,10,15,20,25,30], "labels": false, "title": null}}}},
    {"data": {"name": "contR"}, "mark": {"type": "line", "strokeWidth": 1.2, "clip": true},
     "encoding": {
      "x": {"field": "x", "type": "quantitative", "axis": null},
      "y": {"field": "y", "type": "quantitative", "axis": null},
      "color": {"field": "c", "type": "nominal", "scale": {"domain": ["L1","L2","L3"], "range": ["#1c1c8c","#22d4f0","#9a1a1a"]}, "legend": null},
      "detail": {"field": "id"},
      "order": {"value": null}}},
    {"data": {"values": [{}]}, "mark": {"type": "rule", "color": "#000000", "strokeWidth": 1.8},
     "encoding": {"x": {"datum": 23.75, "type": "quantitative", "axis": null}}},
    {"data": {"values": [{}]}, "mark": {"type": "rule", "color": "#000000", "strokeWidth": 1.8},
     "encoding": {"y": {"datum": 5, "type": "quantitative", "axis": null}}},
    {"data": {"values": [{}]}, "mark": {"type": "text", "align": "left", "baseline": "middle", "fontSize": 15, "fontWeight": "bold", "color": "#000000"},
     "encoding": {"x": {"datum": 18.0, "type": "quantitative", "axis": null}, "y": {"datum": 25.5, "type": "quantitative", "axis": null}, "text": {"value": "Full sample"}}},
    {"data": {"values": [{}]}, "mark": {"type": "text", "align": "left", "baseline": "middle", "fontSize": 15, "fontWeight": "bold", "color": "#ff0000"},
     "encoding": {"x": {"datum": 18.0, "type": "quantitative", "axis": null}, "y": {"datum": 23.5, "type": "quantitative", "axis": null}, "text": {"value": "[3.6]>23.75"}}},
    {"data": {"values": [{}]}, "mark": {"type": "text", "align": "left", "baseline": "middle", "fontSize": 15, "fontWeight": "bold", "color": "#00ee00"},
     "encoding": {"x": {"datum": 18.0, "type": "quantitative", "axis": null}, "y": {"datum": 21.6, "type": "quantitative", "axis": null}, "text": {"value": "spec−z"}}}
   ],
   "resolve": {"axis": {"x": "independent", "y": "independent"}}},
  {"width": 107, "height": 266,
   "layer": [
    {"data": {"name": "sideBarsR"}, "mark": {"type": "rect"},
     "encoding": {
      "x": {"field": "v", "type": "quantitative", "scale": {"domain": [0, 4.86], "nice": false}, "axis": {"orient": "top", "values": [1,2,3,4], "labelFontSize": 12, "labelPadding": 8, "title": "10⁴deg⁻²band⁻¹", "titleFontSize": 12, "titlePadding": 5}},
      "x2": {"datum": 0},
      "y": {"field": "lo", "type": "quantitative", "scale": {"domain": [0, 30], "nice": false}, "axis": null},
      "y2": {"field": "hi"},
      "color": {"field": "s", "type": "nominal", "scale": {"domain": ["faint","specz"], "range": ["#ff0000","#00ff00"]}, "legend": null}}},
    {"data": {"name": "sideStepR"}, "mark": {"type": "line", "interpolate": "step-before", "color": "#000000", "strokeWidth": 2, "clip": true},
     "encoding": {
      "x": {"field": "v", "type": "quantitative", "axis": {"orient": "bottom", "values": [1,2,3,4], "labels": false, "title": null}},
      "y": {"field": "n", "type": "quantitative", "axis": null},
      "order": {"value": null}}}
   ],
   "resolve": {"axis": {"x": "independent", "y": "independent"}}}
]
}
